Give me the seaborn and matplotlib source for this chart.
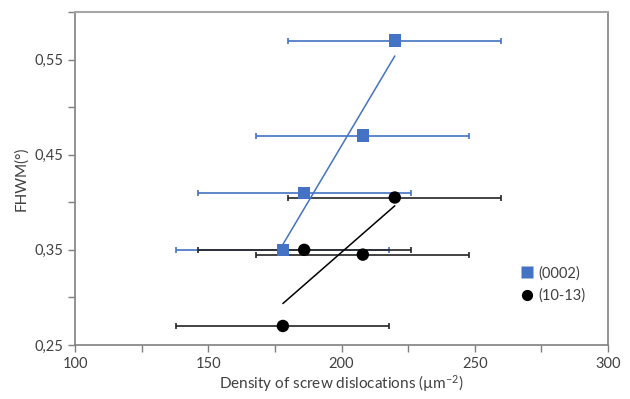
import numpy as np
import pandas as pd
import matplotlib
matplotlib.use("Agg")
import matplotlib.pyplot as plt
import seaborn as sns
from matplotlib.ticker import MultipleLocator, FixedLocator, FuncFormatter

sns.set_theme(style="white")
plt.rcParams['font.family'] = ['Lato', 'DejaVu Sans']
plt.rcParams['mathtext.fontset'] = 'custom'
plt.rcParams['mathtext.rm'] = 'Lato'
plt.rcParams['mathtext.it'] = 'Lato'

# Data
series_names = ["(0002)", "(10-13)"]
x_0002 = [178, 186, 208, 220]
y_0002 = [0.35, 0.41, 0.47, 0.57]
x_1013 = [178, 186, 208, 220]
y_1013 = [0.27, 0.35, 0.345, 0.405]
xerr = [40, 40, 40, 40]
x_ticks = [100, 150, 200, 250, 300]
y_ticks = [0.25, 0.35, 0.45, 0.55]

df = pd.DataFrame({
    "x": x_0002 + x_1013,
    "y": y_0002 + y_1013,
    "series": [series_names[0]] * 4 + [series_names[1]] * 4,
})

blue = "#4472C4"
black = "#000000"

fig = plt.figure(figsize=(6.3, 3.99), dpi=100)
ax = fig.add_axes([75/630, 1-345/399, (608-75)/630, (345-12)/399])

# error bars
ax.errorbar(x_0002, y_0002, xerr=xerr, fmt="none", ecolor=blue, elinewidth=1.2,
            capsize=2.5, capthick=1.2, zorder=2)
ax.errorbar(x_1013, y_1013, xerr=xerr, fmt="none", ecolor="#222222", elinewidth=1.2,
            capsize=2.5, capthick=1.2, zorder=2)

# trend lines (linear fits)
for xs, ys, c in [(x_0002, y_0002, blue), (x_1013, y_1013, black)]:
    p = np.polyfit(xs, ys, 1)
    xx = np.array([min(xs), max(xs)])
    ax.plot(xx, np.polyval(p, xx), color=c, lw=1.1, zorder=3)

sns.scatterplot(data=df, x="x", y="y", hue="series", style="series",
                palette={series_names[0]: blue, series_names[1]: black},
                markers={series_names[0]: "s", series_names[1]: "o"},
                s=80, edgecolor="none", ax=ax, zorder=4, legend=True)

ax.set_xlim(100, 300)
ax.set_ylim(0.25, 0.60)
ax.xaxis.set_major_locator(FixedLocator(x_ticks))
ax.xaxis.set_minor_locator(MultipleLocator(25))
ax.yaxis.set_major_locator(FixedLocator(y_ticks))
ax.yaxis.set_minor_locator(MultipleLocator(0.05))
ax.yaxis.set_major_formatter(FuncFormatter(lambda v, p: f"{v:.2f}".replace(".", ",")))
ax.tick_params(axis="both", which="both", direction="out", colors="#7f7f7f",
               labelcolor="#404040", labelsize=10.5, left=True, bottom=True)
ax.tick_params(axis="both", which="major", length=5, width=1)
ax.tick_params(axis="both", which="minor", length=5, width=1)

for s in ["left", "bottom", "right"]:
    ax.spines[s].set_color("#808080")
    ax.spines[s].set_linewidth(1.2)
ax.spines["top"].set_color("#a6a6a6")
ax.spines["top"].set_linewidth(1.5)

ax.set_xlabel("Density of screw dislocations (\u00b5m$^{-2}$)", fontsize=11, color="#404040", labelpad=2)
ax.set_ylabel("FHWM(\u00b0)", fontsize=11, color="#404040", labelpad=4)

leg = ax.legend(loc="center left", bbox_to_anchor=(0.81, 0.182), frameon=False,
                fontsize=10.5, handlelength=1.0, handletextpad=0.25,
                labelspacing=0.55, markerscale=0.9)
for t in leg.get_texts():
    t.set_color("#404040")

fig.savefig("out.png", dpi=100)
